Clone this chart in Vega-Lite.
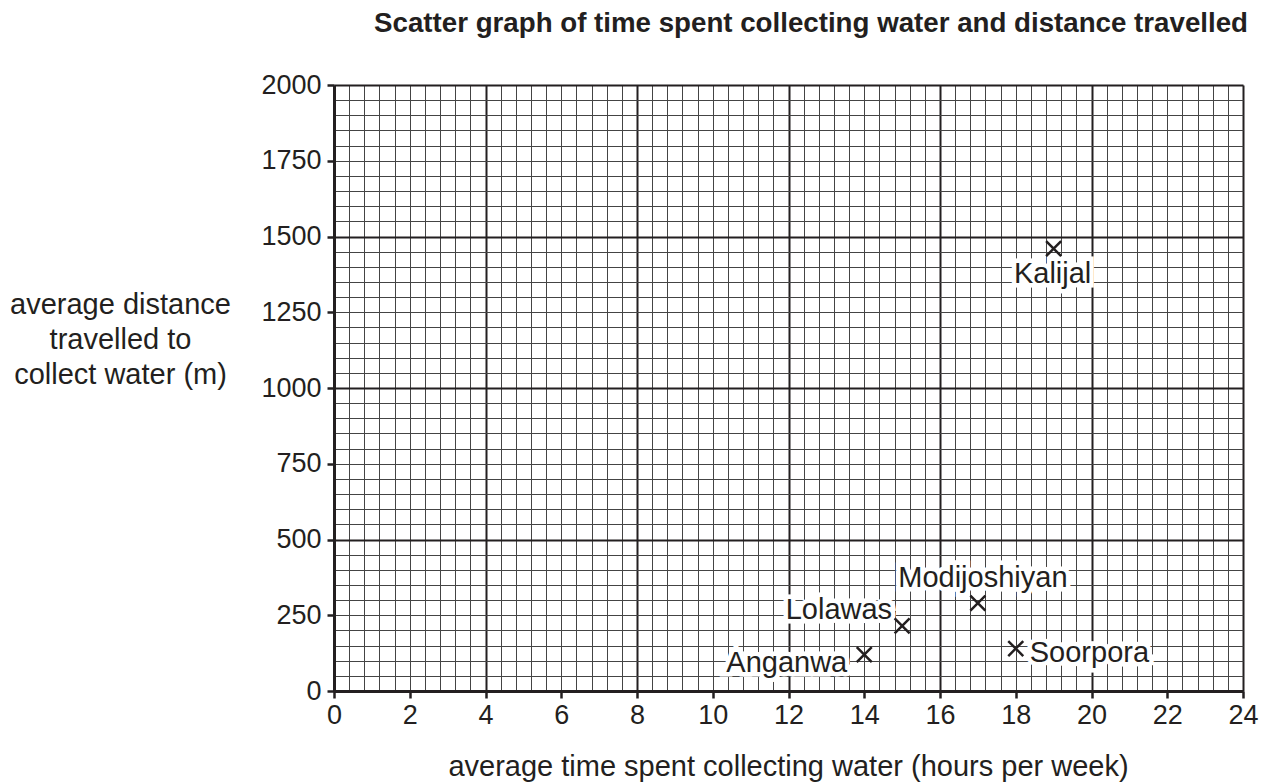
{
  "$schema": "https://vega.github.io/schema/vega-lite/v6.json",
  "width": 909,
  "height": 606,
  "autosize": "none",
  "padding": {"left": 334, "top": 85, "right": 23, "bottom": 92},
  "background": "white",
  "config": {"view": {"stroke": null}, "font": "Liberation Sans"},
  "title": {
    "text": "Scatter graph of time spent collecting water and distance travelled",
    "font": "Liberation Sans",
    "fontSize": 27.7,
    "fontWeight": "bold",
    "color": "#231f20",
    "anchor": "end",
    "frame": "group",
    "dx": 5,
    "offset": 33
  },
  "data": {
    "values": [
      {"name": "Anganwa", "time": 14, "distance": 120},
      {"name": "Lolawas", "time": 15, "distance": 215},
      {"name": "Modijoshiyan", "time": 17, "distance": 290},
      {"name": "Soorpora", "time": 18, "distance": 140},
      {"name": "Kalijal", "time": 19, "distance": 1460}
    ]
  },
  "encoding": {
    "x": {
      "field": "time",
      "type": "quantitative",
      "scale": {"domain": [0, 24], "nice": false, "zero": false},
      "axis": {
        "title": "average time spent collecting water (hours per week)",
        "titleFont": "Liberation Sans",
        "titleFontSize": 29,
        "titleFontWeight": "normal",
        "titleColor": "#231f20",
        "titleBaseline": "alphabetic",
        "titleY": 84,
        "titleX": 454,
        "values": [0,0.4,0.8,1.2,1.6,2,2.4,2.8,3.2,3.6,4,4.4,4.8,5.2,5.6,6,6.4,6.8,7.2,7.6,8,8.4,8.8,9.2,9.6,10,10.4,10.8,11.2,11.6,12,12.4,12.8,13.2,13.6,14,14.4,14.8,15.2,15.6,16,16.4,16.8,17.2,17.6,18,18.4,18.8,19.2,19.6,20,20.4,20.8,21.2,21.6,22,22.4,22.8,23.2,23.6,24],
        "labelExpr": "datum.value % 2 === 0 ? format(datum.value, 'd') : ''",
        "labelOverlap": false,
        "labelFont": "Liberation Sans",
        "labelFontSize": 27,
        "labelColor": "#231f20",
        "labelBaseline": "alphabetic",
        "labelPadding": 25,
        "labelFlush": false,
        "tickSize": 7,
        "tickWidth": 2.5,
        "tickColor": "#231f20",
        "tickOpacity": {"condition": {"test": "datum.value % 2 === 0", "value": 1}, "value": 0},
        "domainColor": "#231f20",
        "domainWidth": 3,
        "grid": true,
        "gridColor": {"condition": {"test": "datum.value % 4 === 0", "value": "#231f20"}, "value": "#444444"},
        "gridWidth": {"condition": {"test": "datum.value % 4 === 0", "value": 2}, "value": 1},
        "gridOpacity": 1
      }
    },
    "y": {
      "field": "distance",
      "type": "quantitative",
      "scale": {"domain": [0, 2000], "nice": false},
      "axis": {
        "title": ["average distance", "travelled to", "collect water (m)"],
        "titleFont": "Liberation Sans",
        "titleFontSize": 29,
        "titleFontWeight": "normal",
        "titleColor": "#231f20",
        "titleAngle": 0,
        "titleAlign": "center",
        "titleBaseline": "middle",
        "titleLineHeight": 35,
        "titleX": -214,
        "titleY": 219,
        "values": [0,50,100,150,200,250,300,350,400,450,500,550,600,650,700,750,800,850,900,950,1000,1050,1100,1150,1200,1250,1300,1350,1400,1450,1500,1550,1600,1650,1700,1750,1800,1850,1900,1950,2000],
        "labelExpr": "datum.value % 250 === 0 ? format(datum.value, 'd') : ''",
        "labelOverlap": false,
        "labelFont": "Liberation Sans",
        "labelFontSize": 27,
        "labelColor": "#231f20",
        "labelBaseline": "middle",
        "labelPadding": 6,
        "labelFlush": false,
        "tickSize": 7,
        "tickWidth": 2.5,
        "tickColor": "#231f20",
        "tickOpacity": {"condition": {"test": "datum.value % 250 === 0", "value": 1}, "value": 0},
        "domainColor": "#231f20",
        "domainWidth": 3,
        "grid": true,
        "gridColor": {"condition": {"test": "datum.value % 500 === 0", "value": "#231f20"}, "value": "#444444"},
        "gridWidth": {"condition": {"test": "datum.value % 500 === 0", "value": 2}, "value": 1},
        "gridOpacity": 1
      }
    }
  },
  "layer": [
    {
      "transform": [{"filter": "datum.name === 'Anganwa'"}],
      "mark": {"type": "text", "align": "right", "baseline": "alphabetic", "dx": -17, "dy": 17, "fontSize": 29, "font": "Liberation Sans", "stroke": "white", "strokeWidth": 9, "fill": "white"},
      "encoding": {"text": {"field": "name"}}
    },
    {
      "transform": [{"filter": "datum.name === 'Lolawas'"}],
      "mark": {"type": "text", "align": "right", "baseline": "alphabetic", "dx": -10, "dy": -7, "fontSize": 29, "font": "Liberation Sans", "stroke": "white", "strokeWidth": 9, "fill": "white"},
      "encoding": {"text": {"field": "name"}}
    },
    {
      "transform": [{"filter": "datum.name === 'Modijoshiyan'"}],
      "mark": {"type": "text", "align": "center", "baseline": "alphabetic", "dx": 5, "dy": -16, "fontSize": 29, "font": "Liberation Sans", "stroke": "white", "strokeWidth": 9, "fill": "white"},
      "encoding": {"text": {"field": "name"}}
    },
    {
      "transform": [{"filter": "datum.name === 'Soorpora'"}],
      "mark": {"type": "text", "align": "left", "baseline": "alphabetic", "dx": 14, "dy": 13, "fontSize": 29, "font": "Liberation Sans", "stroke": "white", "strokeWidth": 9, "fill": "white"},
      "encoding": {"text": {"field": "name"}}
    },
    {
      "transform": [{"filter": "datum.name === 'Kalijal'"}],
      "mark": {"type": "text", "align": "center", "baseline": "alphabetic", "dx": -1, "dy": 34, "fontSize": 29, "font": "Liberation Sans", "stroke": "white", "strokeWidth": 9, "fill": "white"},
      "encoding": {"text": {"field": "name"}}
    },
    {
      "transform": [{"filter": "datum.name === 'Anganwa'"}],
      "mark": {"type": "text", "align": "right", "baseline": "alphabetic", "dx": -17, "dy": 17, "fontSize": 29, "font": "Liberation Sans", "fill": "#231f20"},
      "encoding": {"text": {"field": "name"}}
    },
    {
      "transform": [{"filter": "datum.name === 'Lolawas'"}],
      "mark": {"type": "text", "align": "right", "baseline": "alphabetic", "dx": -10, "dy": -7, "fontSize": 29, "font": "Liberation Sans", "fill": "#231f20"},
      "encoding": {"text": {"field": "name"}}
    },
    {
      "transform": [{"filter": "datum.name === 'Modijoshiyan'"}],
      "mark": {"type": "text", "align": "center", "baseline": "alphabetic", "dx": 5, "dy": -16, "fontSize": 29, "font": "Liberation Sans", "fill": "#231f20"},
      "encoding": {"text": {"field": "name"}}
    },
    {
      "transform": [{"filter": "datum.name === 'Soorpora'"}],
      "mark": {"type": "text", "align": "left", "baseline": "alphabetic", "dx": 14, "dy": 13, "fontSize": 29, "font": "Liberation Sans", "fill": "#231f20"},
      "encoding": {"text": {"field": "name"}}
    },
    {
      "transform": [{"filter": "datum.name === 'Kalijal'"}],
      "mark": {"type": "text", "align": "center", "baseline": "alphabetic", "dx": -1, "dy": 34, "fontSize": 29, "font": "Liberation Sans", "fill": "#231f20"},
      "encoding": {"text": {"field": "name"}}
    },
    {
      "mark": {"type": "point", "shape": "M-1,-1L1,1M-1,1L1,-1", "size": 225, "filled": false, "stroke": "#231f20", "strokeWidth": 2.5, "opacity": 1}
    }
  ]
}
